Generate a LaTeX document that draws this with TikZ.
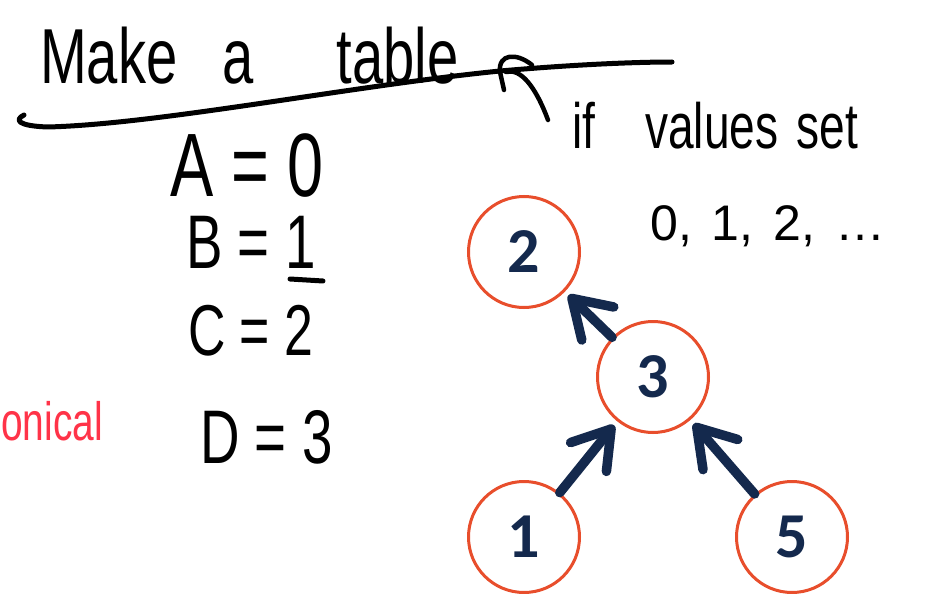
\documentclass[tikz,border=0pt]{standalone}
\usepackage{fontspec}
\setmainfont{Liberation Sans}
\newfontfamily\hand[FakeStretch=0.72]{Liberation Sans}
\newfontfamily\numfont{Carlito}
\usetikzlibrary{arrows.meta}
\definecolor{nodeorange}{HTML}{E84E2C}
\definecolor{navy}{HTML}{14294D}
\definecolor{inkred}{HTML}{FF3348}
\begin{document}
\begin{tikzpicture}[x=1pt,y=-1pt,
  hw/.style={font={\hand\fontsize{#1}{#1}\selectfont}, inner sep=0pt, anchor=base west},
  ink/.style={draw=black, line width=5pt, line cap=round, line join=round},
  circ/.style={circle, draw=nodeorange, line width=3pt, minimum size=111pt, inner sep=0pt,
               font={\numfont\bfseries\fontsize{64}{64}\selectfont}, text=navy},
  arr/.style={draw=navy, line width=9.5pt, line cap=round,
              -{Straight Barb[length=36pt,width=46pt,round]}, shorten >=5pt}]
\useasboundingbox (0,0) rectangle (927,594);
\fill[white] (0,0) rectangle (927,594);

% handwritten notes
\node[hw=78] (make) at (40,84) {Make\hspace{45pt}a\hspace{83pt}table};
\node[hw=64] (ifv) at (572,148) {if\hspace{50pt}values\hspace{18pt}set};
\node[hw=90] (a) at (170,196) {A = 0};
\node[hw=76] (b) at (186,268) {B = 1};
\node[hw=72] (c) at (188,355) {C = 2};
\node[hw=76] (d) at (200,463) {D = 3};
\node[hw=54, text=inkred] (red) at (1,440) {onical};
\node[font={\fontsize{50}{50}\selectfont}, inner sep=0pt, anchor=base west] (seq) at (650,240)
  {0,\hspace{20pt}1,\hspace{20pt}2,\hspace{20pt}\ldots};

% strokes
\draw[ink] (290,279) -- (323,281);
\draw[ink] (24,115) .. controls (14,120) and (18,126) .. (48,127)
  .. controls (160,124) and (350,86) .. (500,71)
  .. controls (580,64) and (640,62) .. (672,62);
\draw[ink, line width=4.5pt] (532,65) .. controls (516,52) and (498,54) .. (500,72) -- (504,90);
\draw[ink, line width=4.5pt] (506,72) .. controls (520,68) and (535,85) .. (548,120);

% graph
\node[circ] (n2) at (524,252) {2};
\node[circ] (n3) at (653,377) {3};
\node[circ] (n1) at (524,537) {1};
\node[circ] (n5) at (792,537) {5};
\draw[arr] (n3) -- (n2);
\draw[arr] (n1) -- (n3);
\draw[arr] (n5) -- (n3);
\end{tikzpicture}
\end{document}
